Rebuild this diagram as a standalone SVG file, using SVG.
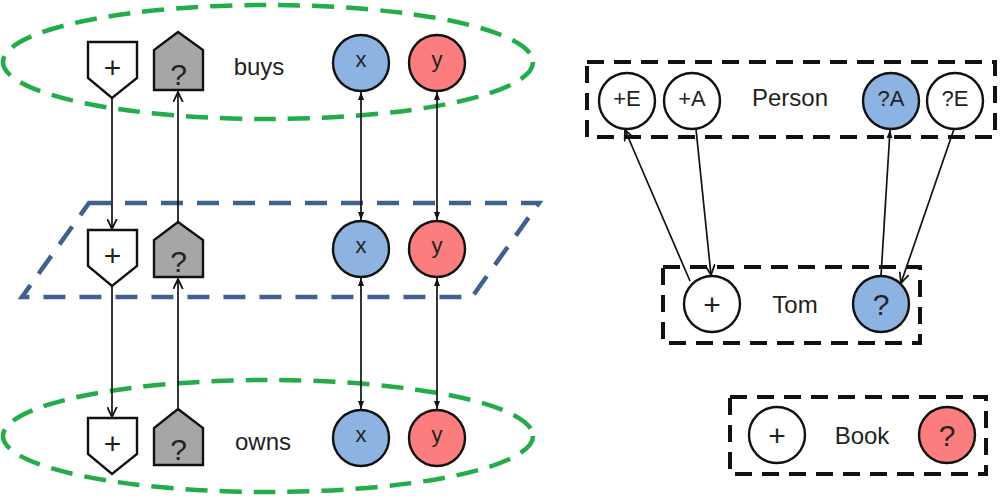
<svg xmlns="http://www.w3.org/2000/svg" width="1000" height="498" viewBox="0 0 1000 498">
<style>
text{font-family:"Liberation Sans",Arial,sans-serif;fill:#222;text-anchor:middle}
.lbl{font-size:24px}
.sym{font-size:30px}
.var{font-size:22px}
.ct{font-size:22px}
.green{fill:none;stroke:#22ac4a;stroke-width:4.5;stroke-dasharray:22 12}
.blue{fill:none;stroke:#41608f;stroke-width:4.5;stroke-dasharray:22 14}
.box{fill:none;stroke:#111;stroke-width:4;stroke-dasharray:17 10}
.shape{stroke:#111;stroke-width:2.4}
.wh{fill:#fff}
.gr{fill:#a6a6a6}
.bl{fill:#8db3e2}
.rd{fill:#fb7d7d}
.c{fill:none;stroke:#111;stroke-width:1.7}
</style>
<defs>
<marker id="open" viewBox="0 0 10 10" refX="9.5" refY="5" markerWidth="11" markerHeight="11" markerUnits="userSpaceOnUse" orient="auto">
<path d="M0,0.5 L9.5,5 L0,9.5" fill="none" stroke="#111" stroke-width="1.6"/>
</marker>
<marker id="tri" viewBox="0 0 8 8" refX="8" refY="4" markerWidth="8" markerHeight="8" markerUnits="userSpaceOnUse" orient="auto-start-reverse">
<path d="M0,1 L8,4 L0,7 z" fill="#111"/>
</marker>
</defs>

<g id="regions">
<ellipse class="green" cx="268" cy="62" rx="265" ry="57"/>
<polygon class="blue" points="89,203 539,203 472,297 22,297"/>
<ellipse class="green" cx="268" cy="436" rx="265" ry="56"/>
</g>

<g id="connectors">
<line class="c" x1="112" y1="98" x2="112" y2="229" marker-end="url(#open)"/>
<line class="c" x1="112" y1="286" x2="112" y2="417" marker-end="url(#open)"/>
<line class="c" x1="178" y1="222" x2="178" y2="92" marker-end="url(#open)"/>
<line class="c" x1="178" y1="409" x2="178" y2="279" marker-end="url(#open)"/>
<line class="c" x1="361" y1="92" x2="361" y2="220" marker-start="url(#tri)" marker-end="url(#tri)"/>
<line class="c" x1="437" y1="92" x2="437" y2="220" marker-start="url(#tri)" marker-end="url(#tri)"/>
<line class="c" x1="361" y1="278" x2="361" y2="409" marker-start="url(#tri)" marker-end="url(#tri)"/>
<line class="c" x1="437" y1="278" x2="437" y2="409" marker-start="url(#tri)" marker-end="url(#tri)"/>
<line class="c" x1="690" y1="281" x2="625" y2="130" marker-end="url(#open)"/>
<line class="c" x1="696" y1="129" x2="711" y2="275" marker-end="url(#open)"/>
<line class="c" x1="881" y1="276" x2="890" y2="130" marker-end="url(#tri)"/>
<line class="c" x1="954" y1="129" x2="901" y2="283" marker-end="url(#open)"/>
</g>

<g id="buys">
<polygon class="shape wh" points="88,42 137,42 137,78 112,98 88,78"/>
<text class="sym" x="112.5" y="78">+</text>
<polygon class="shape gr" points="178,32 203,50 203,90 154,90 154,50"/>
<text class="sym" x="178.5" y="85">?</text>
<text class="lbl" x="259" y="75">buys</text>
<circle class="shape bl" cx="361" cy="63" r="28"/>
<text class="var" x="361" y="67">x</text>
<circle class="shape rd" cx="437" cy="63" r="28"/>
<text class="var" x="437" y="67">y</text>
</g>

<g id="middle">
<polygon class="shape wh" points="88,230 137,230 137,266 112,286 88,266"/>
<text class="sym" x="112.5" y="266">+</text>
<polygon class="shape gr" points="178,222 203,240 203,277 154,277 154,240"/>
<text class="sym" x="178.5" y="272">?</text>
<circle class="shape bl" cx="361" cy="249" r="28"/>
<text class="var" x="361" y="253">x</text>
<circle class="shape rd" cx="437" cy="249" r="28"/>
<text class="var" x="437" y="253">y</text>
</g>

<g id="owns">
<polygon class="shape wh" points="88,418 137,418 137,454 112,474 88,454"/>
<text class="sym" x="112.5" y="454">+</text>
<polygon class="shape gr" points="178,409 203,428 203,465 154,465 154,428"/>
<text class="sym" x="178.5" y="460">?</text>
<text class="lbl" x="263" y="450">owns</text>
<circle class="shape bl" cx="361" cy="438" r="28"/>
<text class="var" x="361" y="442">x</text>
<circle class="shape rd" cx="437" cy="438" r="28"/>
<text class="var" x="437" y="442">y</text>
</g>

<g id="person">
<rect class="box" x="587" y="62" width="408" height="75"/>
<circle class="shape wh" cx="627" cy="101" r="28"/>
<text class="ct" x="627" y="106">+E</text>
<circle class="shape wh" cx="692" cy="101" r="28"/>
<text class="ct" x="692" y="106">+A</text>
<text class="lbl" x="790" y="106">Person</text>
<circle class="shape bl" cx="891" cy="101" r="28"/>
<text class="ct" x="891" y="106">?A</text>
<circle class="shape wh" cx="955" cy="101" r="28"/>
<text class="ct" x="955" y="106">?E</text>
</g>

<g id="tom">
<rect class="box" x="663" y="267" width="257" height="76"/>
<circle class="shape wh" cx="712" cy="304" r="28"/>
<text class="sym" x="712" y="315">+</text>
<text class="lbl" x="795" y="313">Tom</text>
<circle class="shape bl" cx="881" cy="304" r="28"/>
<text class="sym" x="881" y="315">?</text>
</g>

<g id="book">
<rect class="box" x="730" y="397" width="256" height="77"/>
<circle class="shape wh" cx="777" cy="435" r="28"/>
<text class="sym" x="777" y="446">+</text>
<text class="lbl" x="862" y="444">Book</text>
<circle class="shape rd" cx="947" cy="435" r="28"/>
<text class="sym" x="947" y="446">?</text>
</g>
</svg>
